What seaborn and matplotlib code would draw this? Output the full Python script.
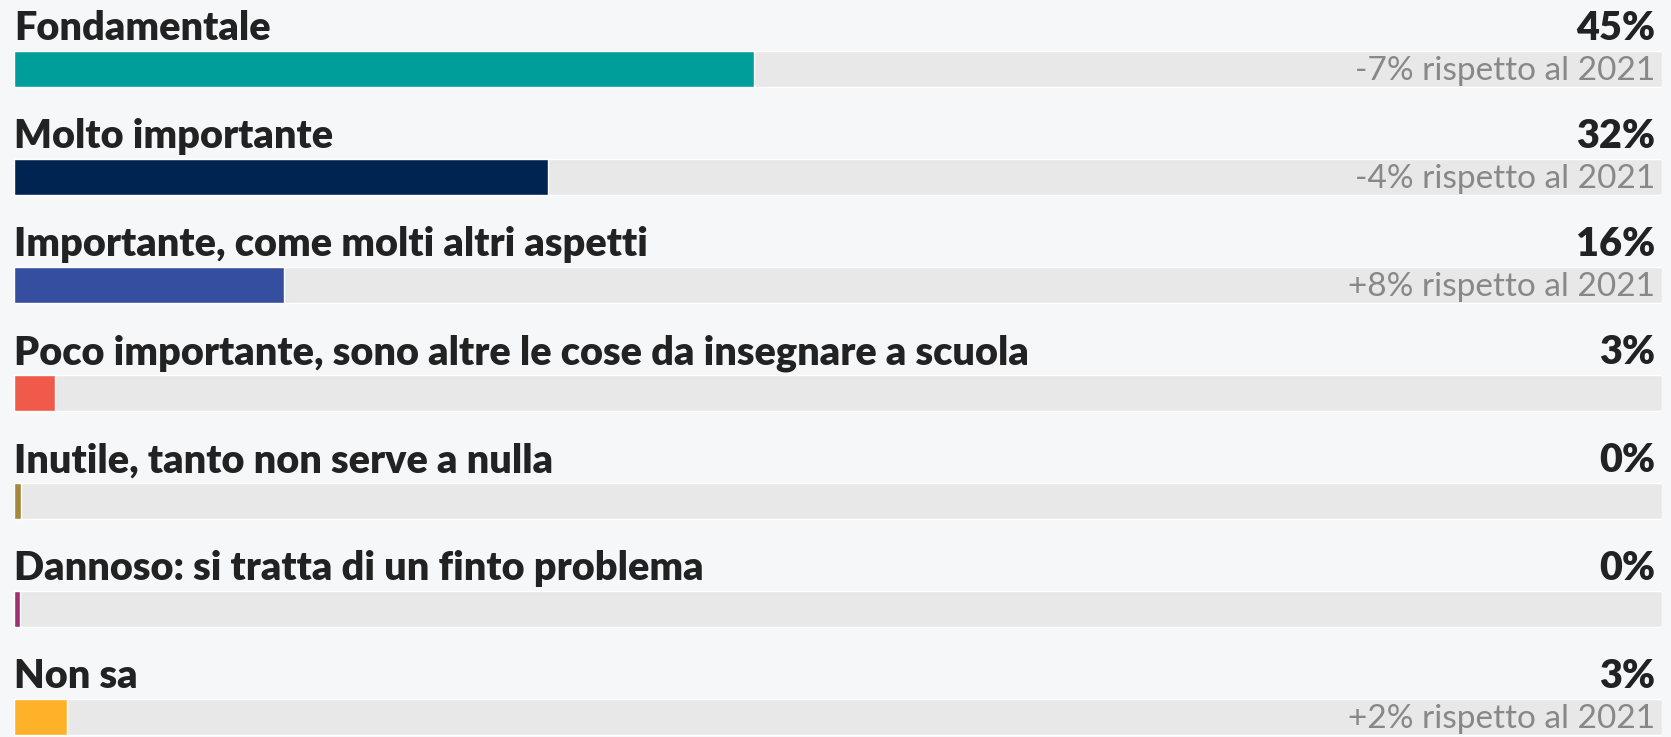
import numpy as np
import pandas as pd
import seaborn as sns
import matplotlib.pyplot as plt

# Data
categories = [
    "Fondamentale",
    "Molto importante",
    "Importante, come molti altri aspetti",
    "Poco importante, sono altre le cose da insegnare a scuola",
    "Inutile, tanto non serve a nulla",
    "Dannoso: si tratta di un finto problema",
    "Non sa",
]
values = [44.9, 32.4, 16.4, 2.5, 0.4, 0.35, 3.2]
pct_labels = ["45%", "32%", "16%", "3%", "0%", "0%", "3%"]
changes = ["-7% rispetto al 2021", "-4% rispetto al 2021", "+8% rispetto al 2021",
           "", "", "", "+2% rispetto al 2021"]
colors = ["#009e9a", "#002452", "#354ea0", "#f05a4a", "#a6883c", "#a03070", "#fdb22a"]

df = pd.DataFrame({"cat": categories, "val": values, "track": 100})

bg = "#f6f7f9"
sns.set_style("white")
plt.rcParams["font.family"] = ["Lato", "DejaVu Sans"]

W, H = 1671, 737
fig = plt.figure(figsize=(W / 100, H / 100), dpi=100, facecolor=bg)
ax = fig.add_axes([14 / W, 0, 1648 / W, 1])
ax.set_facecolor(bg)

bw = 36 / 108
# grey tracks
sns.barplot(data=df, x="track", y="cat", color="#e8e8e8", saturation=1,
            width=bw, ax=ax)
# value bars
sns.barplot(data=df, x="val", y="cat", hue="cat", palette=colors, saturation=1,
            width=bw, legend=False, ax=ax)

ax.set_xlim(0, 100)
ax.set_ylim(6.185, -0.639)

for i, cat in enumerate(categories):
    ax.text(0, i - 0.265, cat, fontsize=28.5, fontweight="heavy", color="#222222",
            va="baseline", ha="left")
    ax.text(99.6, i - 0.265, pct_labels[i], fontsize=28.5, fontweight="heavy",
            color="#222222", va="baseline", ha="right")
    if changes[i]:
        ax.text(99.6, i + 0.1, changes[i], fontsize=24, color="#888888",
                va="baseline", ha="right")

ax.set_xlabel("")
ax.set_ylabel("")
ax.set_xticks([])
ax.set_yticks([])
sns.despine(ax=ax, left=True, bottom=True)

fig.savefig("out.png", dpi=100, facecolor=bg)
